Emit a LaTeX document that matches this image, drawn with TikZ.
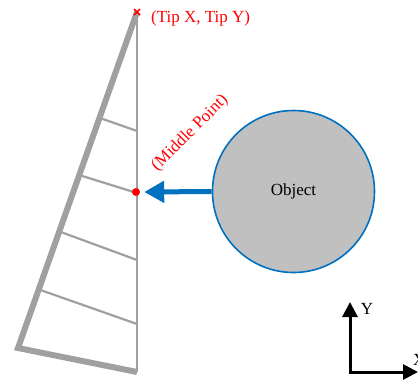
\documentclass[tikz,border=0pt]{standalone}
\usepackage{fontspec}
\setmainfont{Liberation Serif}
\usetikzlibrary{arrows.meta,calc}
\definecolor{bladegray}{RGB}{160,160,160}
\definecolor{objblue}{RGB}{0,112,192}
\definecolor{objfill}{RGB}{192,192,192}
\begin{document}
\begin{tikzpicture}[x=1pt,y=-1pt,
  thickedge/.style={draw=bladegray,line width=6pt,line join=miter},
  thinedge/.style={draw=bladegray,line width=2.8pt},
  crossline/.style={draw=bladegray,line width=2.2pt},
  redlabel/.style={text=red,font=\fontsize{17}{20}\selectfont,inner sep=0pt},
  axis/.style={draw=black,line width=3pt,-{Triangle[length=15pt,width=15pt]}},
]
\useasboundingbox (0,0) rectangle (418,384);
% blade geometry
\coordinate (tip) at (137,12);
\coordinate (bl) at (18,348);
\coordinate (br) at (137,372);
\coordinate (a1) at (100,118); \coordinate (b1) at (137,131);
\coordinate (a2) at (79,175);  \coordinate (b2) at (137,193);
\coordinate (a3) at (59.5,231.5);  \coordinate (b3) at (137,260);
\coordinate (a4) at (39,289.5);  \coordinate (b4) at (137,324);
\draw[crossline] (a1) -- (b1);
\draw[crossline] (a2) -- (b2);
\draw[crossline] (a3) -- (b3);
\draw[crossline] (a4) -- (b4);
\draw[thinedge] (tip) -- (br);
\draw[thickedge] (tip) -- (bl) -- (br);
% tip marker
\draw[red,line width=1.6pt] ($(tip)+(-3,-3)$) -- ($(tip)+(3,3)$) ($(tip)+(-3,3)$) -- ($(tip)+(3,-3)$);
\node[redlabel,anchor=west] (tiplabel) at (151,18) {(Tip X, Tip Y)};
% middle point
\node[circle,fill=red,inner sep=0pt,minimum size=8pt] (mid) at (136,192) {};
\node[redlabel,rotate=45] (midlabel) at (190,133) {(Middle Point)};
% object
\node[circle,draw=objblue,line width=1.6pt,fill=objfill,minimum size=162pt,inner sep=0pt,font=\fontsize{17}{20}\selectfont] (obj) at (293.5,191.5) {Object};
\draw[objblue,line width=5pt,-{Triangle[length=20pt,width=21pt]}] (obj.west) -- ([xshift=4pt]mid.east);
% axes
\coordinate (orig) at (350,372);
\coordinate (ytop) at (350,302);
\coordinate (xend) at (418,372);
\draw[axis] ([yshift=1.5pt]orig) -- (ytop);
\draw[axis] ([xshift=-1.5pt]orig) -- (xend);
\node[font=\fontsize{17}{20}\selectfont,inner sep=0pt] (ylab) at (367,309) {Y};
\node[font=\fontsize{17}{20}\selectfont,inner sep=0pt,anchor=west] (xlab) at (413,360) {X};
\end{tikzpicture}
\end{document}
